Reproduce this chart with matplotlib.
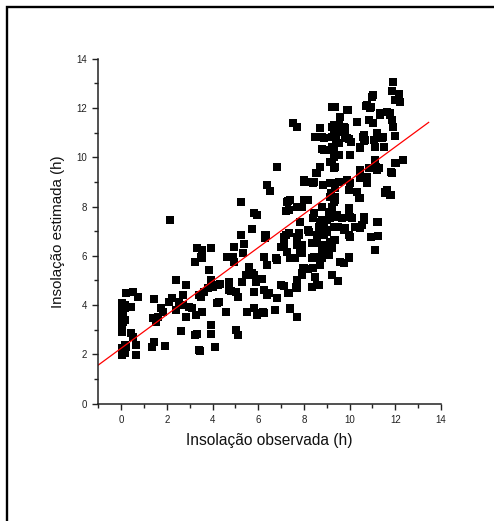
import matplotlib
matplotlib.use("Agg")
import matplotlib.pyplot as plt
from matplotlib.patches import Rectangle
from matplotlib.ticker import MultipleLocator

plt.rcParams['font.family'] = ['Liberation Sans', 'DejaVu Sans']

points = [
    (0.05,4.07),(0.05,3.87),(0.05,3.67),(0.05,3.46),(0.05,3.26),(0.05,3.06),(0.05,2.92),(0.05,2.25),(0.05,2.11),(0.05,1.98),
    (0.1,3.6),(0.1,3.3),(0.12,3.9),(0.15,4.0),(0.15,3.4),
    (0.22,4.48),(0.17,3.87),(0.15,2.38),(0.17,2.04),(0.22,2.3),
    (0.44,3.94),(0.44,2.86),(0.5,2.7),(0.51,4.55),(0.73,4.34),(0.63,2.38),(0.63,1.98),
    (1.45,4.24),(1.38,3.46),(1.6,3.5),(1.53,3.33),(1.45,2.52),(1.34,2.29),(1.74,3.87),(1.82,3.73),(1.92,2.35),
    (2.11,4.13),(2.22,4.28),(2.15,7.47),(2.4,5.02),(2.4,3.8),(2.54,4.14),(2.69,4.41),(2.69,4.0),(2.83,4.82),(2.83,3.53),(2.62,2.95),(2.98,3.94),(3.1,3.9),
    (3.31,2.81),(3.22,2.78),(3.39,2.18),(3.45,2.15),(3.27,3.6),(3.23,5.74),(3.34,6.3),(3.56,6.24),(3.49,5.97),(3.56,5.9),(3.56,3.73),
    (3.41,4.41),(3.63,4.55),(3.49,4.34),(3.78,4.68),(3.85,5.43),(3.92,6.3),(3.92,5.02),(3.92,3.19),(3.92,2.83),(4.11,2.31),(4.0,4.75),(4.22,4.82),(4.29,4.14),(4.19,4.1),(4.33,4.86),
    (4.61,3.73),(4.62,5.97),(4.72,4.95),(4.8,4.57),(4.94,6.37),(4.91,5.97),(4.94,5.76),(5.01,4.55),(5.01,2.99),(5.12,2.79),(5.12,4.34),(5.23,6.85),(5.35,6.1),(5.3,4.95),(5.45,5.22),(5.38,6.5),(5.52,3.73),(5.6,5.56),(5.81,4.55),(5.81,3.87),(5.89,4.95),(5.74,5.29),(5.96,3.67),(5.23,8.17),(4.7,4.6),
    (5.74,7.08),(5.81,7.73),(5.93,7.66),(6.28,6.85),(6.28,6.71),(6.25,5.97),(6.4,8.88),(6.51,8.65),(6.83,9.62),(6.47,4.48),(6.4,4.41),(6.83,4.28),(6.76,5.9),(6.83,5.83),(6.98,6.37),(7.12,6.44),(7.2,6.85),(7.2,7.83),(7.3,8.24),(7.38,8.27),(6.98,4.82),(7.12,4.79),(6.72,3.8),(6.25,3.67),(6.18,3.7),(5.96,3.6),(7.27,6.14),(7.41,5.9),(7.3,4.48),(7.41,3.87),(7.53,11.38),(7.7,11.24),(7.7,8.0),(7.7,6.78),(7.8,6.85),(7.7,6.44),(7.63,5.9),(7.7,5.02),(7.67,4.75),(7.7,3.53),(7.92,8.0),(7.99,9.08),(8.02,8.98),(8.02,8.27),(8.2,8.27),(7.92,6.24),(7.92,6.1),(7.96,5.49),(7.92,5.22),(8.2,7.05),(8.34,5.9),(8.34,4.75),(8.41,5.49),(8.41,8.97),(8.41,7.52),(8.5,10.84),(8.55,9.35),(8.58,6.64),(8.5,5.16),(8.58,4.82),(8.69,11.18),(8.69,9.62),(8.72,7.19),(8.72,5.7),(8.79,10.84),(8.79,10.32),(8.84,8.88),(8.79,8.0),(8.79,7.46),(8.79,6.37),(8.79,5.9),(8.94,10.3),(8.9,7.3),(9.01,7.05),(9.08,7.79),(9.08,6.1),(9.16,6.58),(9.16,7.52),(9.19,8.54),(9.23,12.03),(9.38,12.03),(9.23,11.24),(9.3,11.31),(9.23,10.84),(9.33,10.9),(9.23,10.43),(9.3,10.3),(9.16,9.82),(9.3,10.03),(9.35,9.62),(9.3,8.94),(9.38,8.74),(9.3,8.2),(9.38,8.4),(9.23,6.3),(9.23,5.22),(9.35,6.64),(9.45,7.59),(9.48,7.19),(9.52,11.31),(9.52,10.57),(9.52,9.01),(9.48,4.99),(9.59,11.65),(9.67,11.04),(9.67,7.52),(9.74,5.7),(9.74,11.24),(9.81,10.9),(9.88,9.08),(9.81,7.12),(9.88,11.92),(9.96,10.73),(9.96,8.67),(9.96,7.93),(9.96,7.66),(9.96,6.85),(9.96,5.9),(10.0,10.09),(10.03,8.94),(10.1,7.52),(10.25,7.19),(10.32,11.45),(10.32,8.61),(10.39,8.34),(10.44,9.46),(10.47,10.43),(10.47,9.15),(10.54,7.25),(10.58,10.84),(10.61,7.59),(10.64,10.64),(10.71,12.08),(10.76,8.94),(10.83,11.52),(10.83,9.55),(10.9,11.99),(10.93,6.78),(10.97,12.46),(11.02,12.53),(11.02,11.38),(11.05,10.7),(11.12,9.89),(11.12,6.24),(11.16,9.62),(11.19,9.49),(11.19,10.97),(11.24,7.39),(11.24,6.81),(11.31,11.72),(11.34,10.84),(11.48,10.84),(11.51,10.43),(11.56,8.54),(11.63,8.67),(11.63,11.85),(11.77,11.79),(11.8,9.42),(11.8,8.47),(11.85,12.67),(11.85,11.52),(11.92,11.24),(11.92,13.07),(11.99,12.33),(11.99,10.87),(12.03,9.76),(12.14,12.57),(12.21,12.26),(12.33,9.89),
    (6.4,5.63),(5.81,5.22),(6.18,5.06),(6.25,4.61),(7.34,4.48),(7.7,4.68),(8.36,4.75),(8.65,4.82),(6.22,3.73),(7.41,3.84),(7.92,5.29),(7.99,5.49),(8.2,5.45),(8.72,5.63),(9.59,5.76),(9.96,5.94),(7.92,6.44),(7.85,6.17),(7.49,5.9),(7.12,6.78),(7.7,6.51),(8.43,5.97),(8.79,6.1),(9.08,6.03),(8.36,6.51),(8.58,6.51),(8.87,6.44),(8.87,6.85),(8.58,6.85),(7.78,6.92),(8.21,6.98),(9.01,6.98),(9.3,6.64),(10.03,6.78),
    (9.91,11.92),(10.76,12.12),(10.93,12.05),(11.34,11.79),(11.77,11.72),(9.45,11.24),(9.81,11.18),(8.72,11.18),(8.58,10.84),(8.87,10.77),(9.4,10.7),(9.89,10.77),(10.05,10.6),(10.61,10.9),(10.68,10.7),(11.41,10.77),(8.87,10.3),(9.1,10.3),(9.52,10.09),(10.47,10.37),(11.12,10.43),(9.23,9.82),(9.3,9.55),(8.72,9.62),(8.58,9.35),(11.12,9.55),(11.3,9.55),(11.99,9.76),(11.85,9.35),(10.47,9.49),(10.76,9.21),(9.38,8.94),(9.16,8.94),(8.43,9.01),(8.07,9.01),(10.32,8.6),(10.47,8.34),(11.56,8.6),(11.77,8.47),(9.16,8.4),(9.38,8.27),(9.23,8.0),(8.07,8.27),(7.78,8.0),(7.27,8.2),(7.34,7.86),(6.32,6.85),(8.72,7.39),(9.01,7.46),(9.45,7.66),(10.03,7.59),(10.61,7.46),(8.43,7.73),(8.65,7.18),(9.3,7.18),(9.74,7.05),(10.47,7.12),(11.19,7.39),(7.85,7.39),(7.34,6.92),
]
observed = [p[0] for p in points]
estimated = [p[1] for p in points]

fit_intercept = 2.25
fit_slope = 0.681
fit_x = [-1.0, 13.46]
fit_y = [fit_intercept + fit_slope * v for v in fit_x]

W, H = 494, 521
fig = plt.figure(figsize=(W / 100, H / 100), dpi=100)
fig.patches.append(Rectangle((7 / W, -0.1), 1.2, 1 - 7 / H + 0.1, transform=fig.transFigure,
                             fill=False, edgecolor='black', linewidth=1.7, clip_on=False))

ax = fig.add_axes([98.3 / W, 1 - 403.7 / H, (441 - 98.3) / W, (403.7 - 58.7) / H])
ax.plot(observed, estimated, 's', color='black', markersize=5.3, markeredgewidth=0)
ax.plot(fit_x, fit_y, color='red', linewidth=0.9)

ax.set_xlim(-1, 14)
ax.set_ylim(0, 14)
ax.xaxis.set_major_locator(MultipleLocator(2))
ax.xaxis.set_minor_locator(MultipleLocator(1))
ax.yaxis.set_major_locator(MultipleLocator(2))
ax.yaxis.set_minor_locator(MultipleLocator(1))
ax.set_xticks(range(0, 15, 2))
for s in ['top', 'right']:
    ax.spines[s].set_visible(False)
for s in ['left', 'bottom']:
    ax.spines[s].set_linewidth(1.1)
    ax.spines[s].set_color('#222222')
ax.tick_params(which='major', direction='out', length=4, width=1.0, labelsize=7, pad=4, colors='#222222')
ax.tick_params(which='minor', direction='out', length=3, width=1.0, colors='#222222')

ax.set_xlabel('Insolação observada (h)', fontsize=11.2, labelpad=6, color='#111111')
ax.set_ylabel('Insolação estimada (h)', fontsize=10.9, labelpad=8, color='#111111')

fig.savefig('out.png', dpi=100)
